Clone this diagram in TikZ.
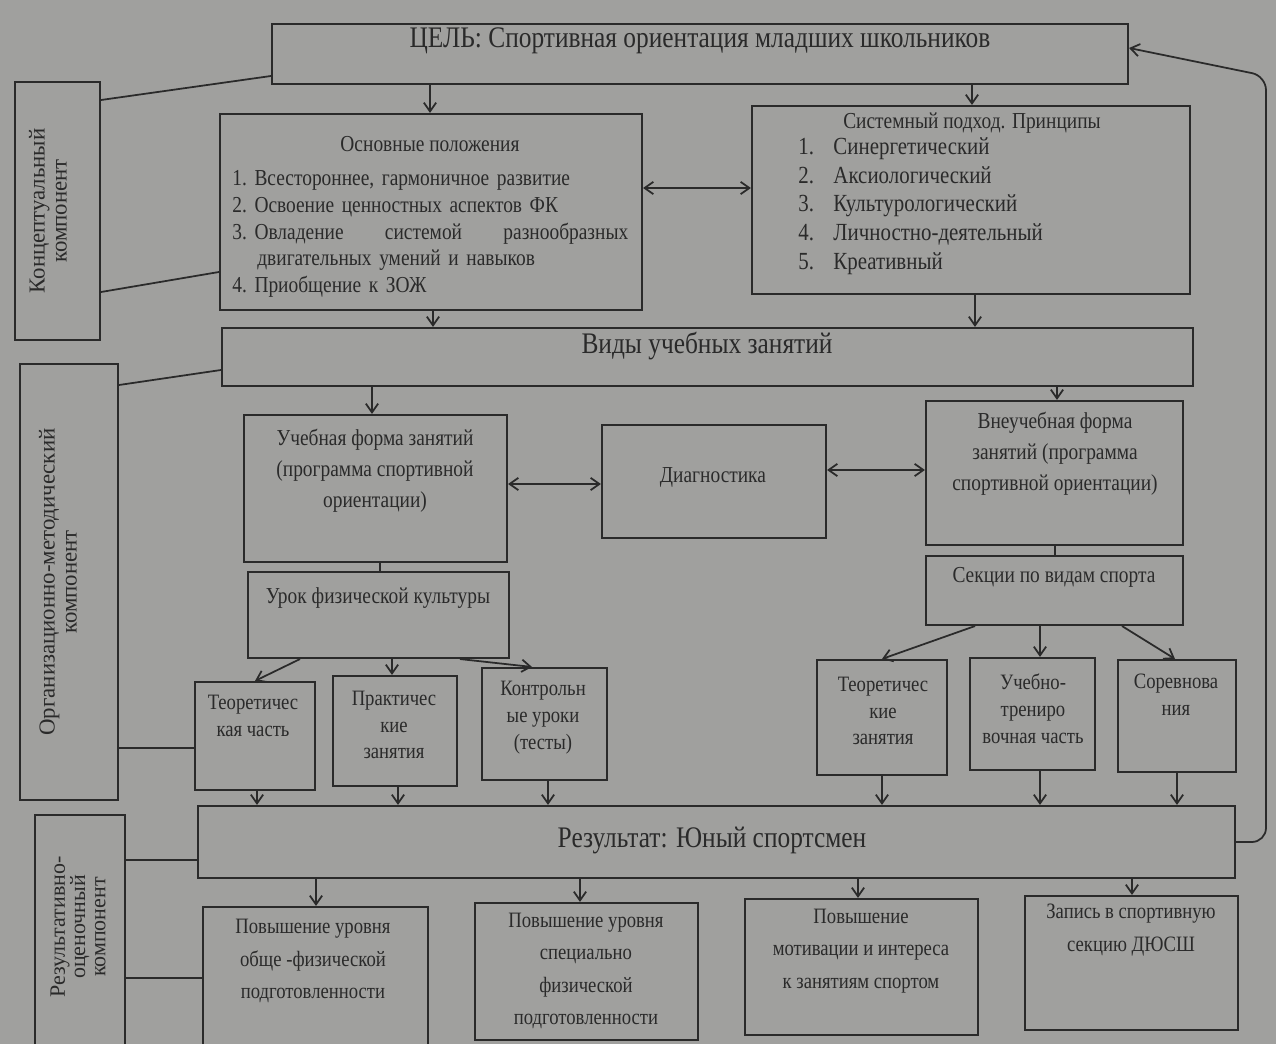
\documentclass[tikz,border=0pt]{standalone}
\usepackage{fontspec}
\setmainfont{Liberation Serif}[FakeStretch=0.85]
\newfontfamily\sidefont{Liberation Serif}
\usetikzlibrary{arrows.meta, fit}

\definecolor{paper}{RGB}{160,160,158}
\definecolor{ink}{RGB}{42,42,42}

\newcommand{\itemno}[1]{\makebox[20pt][l]{#1}}

\tikzset{
  box/.style={draw=ink, line width=1.2pt, inner sep=0pt},
  txt/.style={text=ink, align=center, inner sep=0pt, font=\fontsize{13}{17.5}\selectfont},
  small/.style={txt, font=\fontsize{12.5}{15.3}\selectfont},
  low/.style={txt, font=\fontsize{12.5}{18.5}\selectfont},
  head/.style={txt, font=\fontsize{17}{20}\selectfont},
  side/.style={txt, rotate=90, font=\sidefont\fontsize{13}{12.5}\selectfont},
  link/.style={draw=ink, line width=1pt},
  arr/.style={link, -{Straight Barb[length=5pt,width=7pt]}},
  biarr/.style={link, {Straight Barb[length=5pt,width=7pt]}-{Straight Barb[length=5pt,width=7pt]}}
}

\begin{document}
\begin{tikzpicture}[x=0.02cm, y=-0.02cm]
  \fill[paper] (0,0) rectangle (1276,1044);
  \useasboundingbox (0,0) rectangle (1276,1044);
  \clip (0,0) rectangle (1276,1044);

  % components (left column)
  \node[box, fit={(15,82) (100,340)}] (concept) {};
  \node[side] (concept-t) at (48,211) {Концептуальный\\компонент};
  \node[box, fit={(20,364) (118,800)}] (org) {};
  \node[side] (org-t) at (58,582) {Организационно-методический\\компонент};
  \node[box, fit={(35,815) (125,1060)}] (resbox) {};
  \node[side, font=\sidefont\fontsize{12.5}{11.5}\selectfont] (resbox-t) at (78,927) {Результативно-\\оценочный\\компонент};

  % goal and principles
  \node[box, fit={(272,24) (1128,84)}] (goal) {};
  \node[head] (goal-t) at (700,41) {ЦЕЛЬ: Спортивная ориентация младших школьников};
  \node[box, fit={(220,114) (642,310)}] (main) {};
  \node[txt] (main-t) at (430,144) {Основные положения};
  \node[txt, anchor=west, align=left, text width=7.92cm, font=\fontsize{13}{15.3}\selectfont] (main-l) at (232,234)
    {1.~Всестороннее, гармоничное развитие\\
     2.~Освоение ценностных аспектов ФК\\
     3.~Овладение\hfill системой\hfill разнообразных\\
     \hspace*{0.5cm}двигательных умений и навыков\\
     4.~Приобщение к ЗОЖ};
  \node[box, fit={(752,106) (1190,294)}] (sys) {};
  \node[txt] (sys-t) at (972,123) {Системный подход. Принципы};
  \node[txt, anchor=west, align=left, font=\fontsize{14}{16.3}\selectfont] (sys-l) at (798,206)
    {\itemno{1.}Синергетический\\
     \itemno{2.}Аксиологический\\
     \itemno{3.}Культурологический\\
     \itemno{4.}Личностно-деятельный\\
     \itemno{5.}Креативный};

  % kinds of lessons
  \node[box, fit={(222,328) (1193,386)}] (kinds) {};
  \node[head] (kinds-t) at (707,346) {Виды учебных занятий};
  \node[box, fit={(244,415) (507,562)}] (ucheb) {};
  \node[txt] (ucheb-t) at (375,471) {Учебная форма занятий\\(программа спортивной\\ориентации)};
  \node[box, fit={(602,425) (826,538)}] (diag) {};
  \node[txt] (diag-t) at (713,477) {Диагностика};
  \node[box, fit={(926,401) (1183,545)}] (vneuch) {};
  \node[txt] (vneuch-t) at (1055,454) {Внеучебная форма\\занятий (программа\\спортивной ориентации)};
  \node[box, fit={(248,572) (509,658)}] (urok) {};
  \node[txt] (urok-t) at (378,598) {Урок физической культуры};
  \node[box, fit={(926,556) (1183,625)}] (sekcii) {};
  \node[txt] (sekcii-t) at (1054,577) {Секции по видам спорта};

  \node[box, fit={(195,682) (315,790)}] (teor1) {};
  \node[small] (teor1-t) at (253,716) {Теоретичес\\кая часть};
  \node[box, fit={(333,676) (457,786)}] (prakt) {};
  \node[small] (prakt-t) at (394,725) {Практичес\\кие\\занятия};
  \node[box, fit={(482,668) (607,780)}] (kontr) {};
  \node[small] (kontr-t) at (543,718) {Контрольн\\ые уроки\\(тесты)};
  \node[box, fit={(817,660) (947,775)}] (teor2) {};
  \node[small] (teor2-t) at (883,711) {Теоретичес\\кие\\занятия};
  \node[box, fit={(970,658) (1095,770)}] (trenir) {};
  \node[small] (trenir-t) at (1033,709) {Учебно-\\трениро\\вочная часть};
  \node[box, fit={(1118,660) (1236,772)}] (sorev) {};
  \node[small] (sorev-t) at (1176,695) {Соревнова\\ния};

  % result
  \node[box, fit={(198,806) (1235,878)}] (res) {};
  \node[head] (res-t) at (712,840) {Результат: Юный спортсмен};
  \node[box, fit={(203,907) (428,1050)}] (pov1) {};
  \node[low] (pov1-t) at (313,961) {Повышение уровня\\обще -физической\\подготовленности};
  \node[box, fit={(475,903) (698,1040)}] (pov2) {};
  \node[low] (pov2-t) at (586,971) {Повышение уровня\\специально\\физической\\подготовленности};
  \node[box, fit={(745,899) (978,1035)}] (motiv) {};
  \node[low] (motiv-t) at (861,951) {Повышение\\мотивации и интереса\\к занятиям спортом};
  \node[box, fit={(1025,896) (1238,1030)}] (zapis) {};
  \node[low] (zapis-t) at (1131,930) {Запись в спортивную\\секцию ДЮСШ};

  % lines from the components
  \draw[link] (concept.east |- 0,100) -- (goal.west |- 0,76);
  \draw[link] (concept.east |- 0,292) -- (main.west |- 0,272);
  \draw[link] (org.east |- 0,385) -- (kinds.west |- 0,370);
  \draw[link] (org.east |- 0,748) -- (teor1.west |- 0,748);
  \draw[link] (resbox.east |- 0,860) -- (res.west |- 0,860);
  \draw[link] (resbox.east |- 0,978) -- (pov1.west |- 0,978);

  % arrows
  \draw[arr] (goal.south -| 430,0) -- (main.north -| 430,0);
  \draw[arr] (goal.south -| 972,0) -- (sys.north -| 972,0);
  \draw[biarr] (main.east |- 0,188) -- (sys.west |- 0,188);
  \draw[arr] (main.south -| 433,0) -- (kinds.north -| 433,0);
  \draw[arr] (sys.south -| 975,0) -- (kinds.north -| 975,0);
  \draw[arr] (kinds.south -| 372,0) -- (ucheb.north -| 372,0);
  \draw[arr] (kinds.south -| 1057,0) -- (vneuch.north -| 1057,0);
  \draw[biarr] (ucheb.east |- 0,484) -- (diag.west |- 0,484);
  \draw[biarr] (diag.east |- 0,470) -- (vneuch.west |- 0,470);
  \draw[link] (ucheb.south -| 380,0) -- (urok.north -| 380,0);
  \draw[link] (vneuch.south -| 1055,0) -- (sekcii.north -| 1055,0);
  \draw[arr] (urok.south -| 300,0) -- (teor1.north -| 255,0);
  \draw[arr] (urok.south -| 392,0) -- (prakt.north -| 392,0);
  \draw[arr] (urok.south -| 460,0) -- (kontr.north -| 532,0);
  \draw[arr] (sekcii.south -| 975,0) -- (teor2.north -| 882,0);
  \draw[arr] (sekcii.south -| 1040,0) -- (trenir.north -| 1040,0);
  \draw[arr] (sekcii.south -| 1122,0) -- (sorev.north -| 1175,0);
  \foreach \b/\x in {teor1/257, prakt/398, kontr/548, teor2/882, trenir/1040, sorev/1177}
    \draw[arr] (\b.south -| \x,0) -- (res.north -| \x,0);
  \foreach \b/\x in {pov1/316, pov2/580, motiv/858, zapis/1132}
    \draw[arr] (res.south -| \x,0) -- (\b.north -| \x,0);

  % feedback to the goal
  \draw[arr, rounded corners=8pt] (res.east |- 0,842) -- (1266,842) -- (1266,76) -- (goal.east |- 0,48);
\end{tikzpicture}
\end{document}
